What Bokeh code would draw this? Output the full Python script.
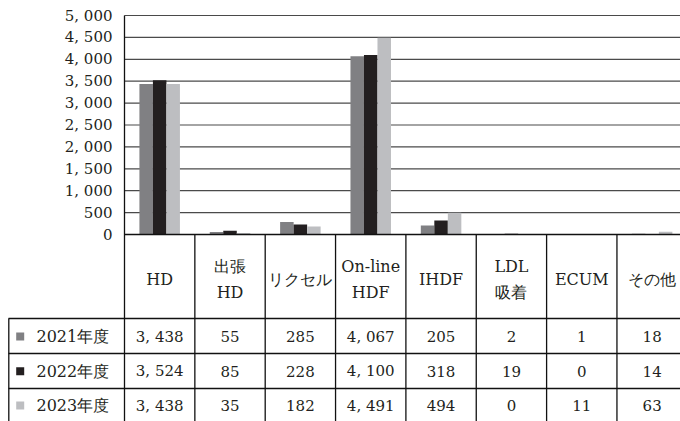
from bokeh.plotting import figure
from bokeh.models import Range1d
from bokeh.core.properties import value
from bokeh.embed import file_html
from bokeh.resources import INLINE

# ---------------- data ----------------
categories = ["HD", "出張\nHD", "リクセル", "On-line\nHDF", "IHDF", "LDL\n吸着", "ECUM", "その他"]
years = ["2021年度", "2022年度", "2023年度"]
v2021 = [3438, 55, 285, 4067, 205, 2, 1, 18]
v2022 = [3524, 85, 228, 4100, 318, 19, 0, 14]
v2023 = [3438, 35, 182, 4491, 494, 0, 11, 63]
y_ticks = [0, 500, 1000, 1500, 2000, 2500, 3000, 3500, 4000, 4500, 5000]
y_tick_labels = ["0", "500", "1, 000", "1, 500", "2, 000", "2, 500", "3, 000",
                 "3, 500", "4, 000", "4, 500", "5, 000"]
series = [v2021, v2022, v2023]
colors = ["#808083", "#231f20", "#bdbec1"]

# ---------------- layout (figure pixels) ----------------
W, H = 680, 421
PLOT_L = 124.0      # left edge of the category area
CAT_W = 70.35       # width of one category column
Y_BASE = 234.0      # pixel row of value 0
Y_TOP = 15.0        # pixel row of value 5000
YMAX = 5000.0
PPU = (Y_BASE - Y_TOP) / YMAX

def tx(px):
    return (px - PLOT_L) / CAT_W

def ty(py):
    return (Y_BASE - py) / PPU

x_start, x_end = tx(0), tx(W)
y_start, y_end = ty(H), ty(0)

FONT = value("DejaVu Serif")
FS = "15px"
FS_LABEL = "16px"

p = figure(width=W, height=H, output_backend="svg", toolbar_location=None,
           x_range=Range1d(x_start, x_end), y_range=Range1d(y_start, y_end),
           min_border=0, min_border_left=0, min_border_right=0,
           min_border_top=0, min_border_bottom=0)
p.axis.visible = False
p.xgrid.visible = False
p.ygrid.visible = False
p.outline_line_color = None
p.background_fill_color = "white"
p.border_fill_color = "white"

n = len(categories)
# grid lines
p.segment(x0=[0] * (len(y_ticks) - 1), x1=[x_end] * (len(y_ticks) - 1),
          y0=y_ticks[1:], y1=y_ticks[1:], line_color="#4a4a4a", line_width=1.2)

# bars
bw = 0.192
offsets = [-bw, 0.0, bw]
for vals, col, off in zip(series, colors, offsets):
    p.vbar(x=[i + 0.5 + off for i in range(n)], top=vals, bottom=0, width=bw,
           fill_color=col, line_color=None)

# baseline and vertical axis line
p.segment(x0=[0], x1=[x_end], y0=[0], y1=[0], line_color="#111111", line_width=1.6)
p.segment(x0=[0], x1=[0], y0=[YMAX], y1=[y_start], line_color="#111111", line_width=1.3)

# y tick labels
p.text(x=[tx(112)] * len(y_ticks), y=y_ticks, text=y_tick_labels,
       text_align="right", text_baseline="middle", text_font=FONT,
       text_font_size=FS, text_color="#231f20")

# table lines
ROW_TOP = [318.0, 353.0, 388.0]
ROW_C = [336.0, 370.7, 405.0]
p.segment(x0=list(range(1, n)), x1=list(range(1, n)),
          y0=[0] * (n - 1), y1=[y_start] * (n - 1), line_color="#111111", line_width=1.3)
p.segment(x0=[tx(8)] * 3, x1=[x_end] * 3, y0=[ty(r) for r in ROW_TOP],
          y1=[ty(r) for r in ROW_TOP], line_color="#111111", line_width=1.3)
p.segment(x0=[tx(8.3)], x1=[tx(8.3)], y0=[ty(ROW_TOP[0])], y1=[y_start],
          line_color="#111111", line_width=1.3)

# header labels
p.text(x=[i + 0.5 for i in range(n)], y=[ty(279)] * n, text=categories,
       text_align="center", text_baseline="middle", text_font=FONT,
       text_font_size=FS_LABEL, text_color="#231f20", text_line_height=1.42)

# table values
def fmt(v):
    return f"{v:,}".replace(",", ", ")

for vals, yc in zip(series, ROW_C):
    p.text(x=[i + 0.5 for i in range(n)], y=[ty(yc)] * n, text=[fmt(v) for v in vals],
           text_align="center", text_baseline="middle", text_font=FONT,
           text_font_size=FS, text_color="#231f20")

# legend squares and row labels
p.scatter(x=[tx(19.7)] * 3, y=[ty(c) for c in ROW_C], marker="square", size=8,
          fill_color=colors, line_color=None)
p.text(x=[tx(36)] * 3, y=[ty(c) for c in ROW_C], text=years,
       text_align="left", text_baseline="middle", text_font=FONT,
       text_font_size=FS_LABEL, text_color="#231f20")

open("out.html", "w").write(file_html(p, INLINE))
